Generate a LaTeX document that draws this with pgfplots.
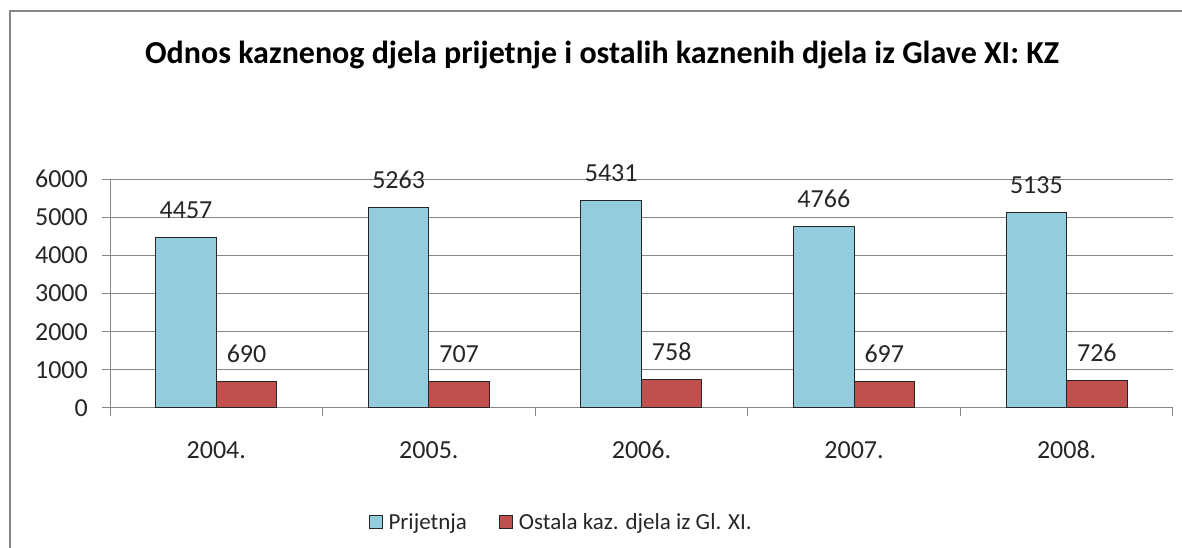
\documentclass[border=0pt]{standalone}
\usepackage{fontspec}
\setmainfont{Carlito}
\usepackage{pgfplots}
\pgfplotsset{compat=1.18}
\definecolor{barblue}{RGB}{147,205,221}
\definecolor{barred}{RGB}{192,80,77}
\definecolor{gridgray}{RGB}{134,134,134}
\begin{document}
\begin{tikzpicture}[x=1pt,y=1pt]
\path[use as bounding box] (0,0) rectangle (1182,548);
\draw[gridgray, line width=2.5pt] (10,-5) -- (10,537) -- (1195,537);
\node[font=\fontsize{32}{37}\selectfont\bfseries] at (602,493) {Odnos kaznenog djela prijetnje i ostalih kaznenih djela iz Glave XI: KZ};
\begin{axis}[
  at={(110pt,140pt)}, anchor=south west,
  scale only axis, width=1063pt, height=229pt,
  ymin=0, ymax=6000, xmin=-0.5, xmax=4.5,
  ybar=0pt, bar width=60.5pt,
  ytick={0,1000,...,6000},
  xtick={-0.5,0.5,1.5,2.5,3.5,4.5},
  x tick label as interval,
  xticklabels={2004.,2005.,2006.,2007.,2008.},
  axis lines*=left,
  axis line style={gridgray, line width=1pt},
  ymajorgrids, grid style={gridgray, line width=1pt},
  tick align=outside,
  major tick length=8pt,
  tick style={gridgray, line width=1pt},
  /pgf/number format/assume math mode=true,
  /pgf/number format/1000 sep={},
  ticklabel style={font=\fontsize{26}{30}\selectfont, inner sep=0pt, black!85},
  yticklabel style={xshift=-14pt},
  xticklabel style={yshift=-25pt},
  nodes near coords,
  every node near coord/.append style={font=\fontsize{26}{30}\selectfont, anchor=base, inner sep=0pt, yshift=19pt, black!85},
  legend style={draw=none, fill=none, at={(0.4245,-0.498)}, anchor=center, legend columns=2,
    font=\fontsize{23}{27}\selectfont, text=black!85,
    /tikz/every odd column/.append style={column sep=4pt},
    /tikz/every even column/.append style={column sep=30pt}},
  legend image code/.code={\draw[#1, line width=1pt] (0pt,-6.5pt) rectangle (13pt,6.5pt);},
]
\addplot[fill=barblue, draw=black!85, line width=1pt] coordinates {(0,4457) (1,5263) (2,5431) (3,4766) (4,5135)};
\addplot[fill=barred, draw=black!85, line width=1pt] coordinates {(0,690) (1,707) (2,758) (3,697) (4,726)};
\legend{Prijetnja, Ostala kaz. djela iz Gl. XI.}
\end{axis}
\end{tikzpicture}
\end{document}
